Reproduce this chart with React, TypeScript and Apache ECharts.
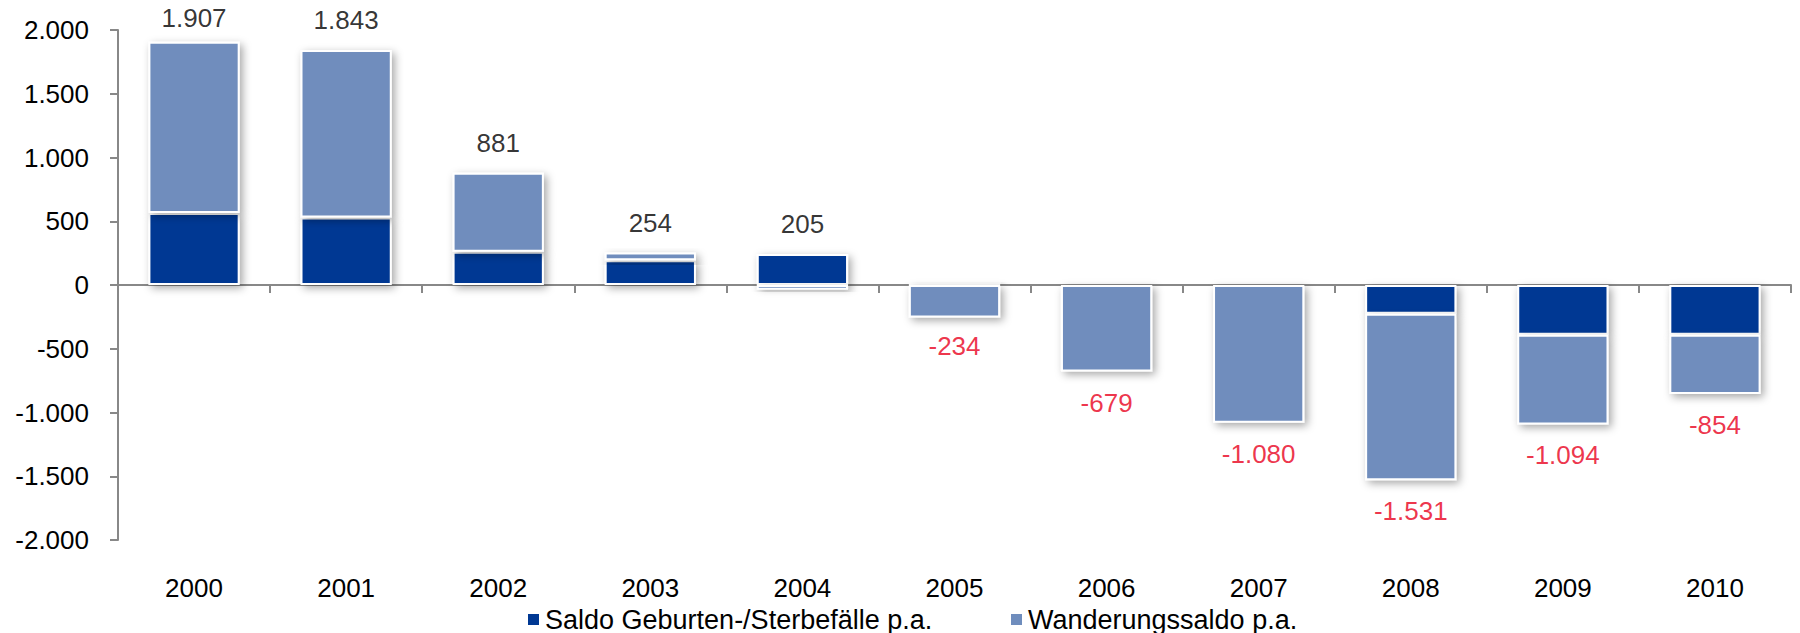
import React, { useEffect, useRef } from "react";
import * as echarts from "echarts";

const years = ["2000", "2001", "2002", "2003", "2004", "2005", "2006", "2007", "2008", "2009", "2010"];
const saldoGeburten = [565, 530, 260, 195, 243, 20, 0, 0, -225, -390, -390];
const wanderungssaldo = [1342, 1313, 621, 59, -38, -254, -679, -1080, -1306, -704, -464];
const totals = [1907, 1843, 881, 254, 205, -234, -679, -1080, -1531, -1094, -854];
const yTicks = { min: -2000, max: 2000, interval: 500 };
const legendNames = ["Saldo Geburten-/Sterbefälle p.a.", "Wanderungssaldo p.a."];

const FONT = "'Liberation Sans', Arial, sans-serif";
const fmt = (v: number) => {
  const s = Math.abs(Math.round(v)).toString().replace(/\B(?=(\d{3})+(?!\d))/g, ".");
  return (v < 0 ? "-" : "") + s;
};

const GRID_TOP = 30;
const GRID_BOTTOM = 93;
const HEIGHT = 633;

export default function App() {
  const ref = useRef<HTMLDivElement>(null);
  useEffect(() => {
    if (!ref.current) return;
    const chart = echarts.init(ref.current, undefined, { renderer: "svg" });
    const barStyle = (color: string) => ({
      color,
      borderColor: "#ffffff",
      borderWidth: 2,
      shadowBlur: 8,
      shadowOffsetX: 3,
      shadowOffsetY: 3,
      shadowColor: "rgba(0,0,0,0.35)",
    });
    const plotH = HEIGHT - GRID_TOP - GRID_BOTTOM;
    const yPix = (v: number) => GRID_TOP + ((yTicks.max - v) / (yTicks.max - yTicks.min)) * plotH;
    const legendCommon = {
      icon: "rect",
      itemWidth: 13,
      itemHeight: 13,
      itemGap: 8,
      textStyle: { fontSize: 27, color: "#000", fontFamily: FONT },
    };
    chart.setOption({
      animation: false,
      textStyle: { fontFamily: FONT },
      grid: { left: 118, right: 9, top: GRID_TOP, bottom: GRID_BOTTOM, containLabel: false },
      legend: [
        { ...legendCommon, left: 521, top: 601, data: [legendNames[0]] },
        { ...legendCommon, left: 1004, top: 601, data: [legendNames[1]] },
      ],
      xAxis: [
        {
          type: "category",
          data: years,
          axisLine: { onZero: true, lineStyle: { color: "#888888", width: 2 } },
          axisTick: { show: true, length: 8, lineStyle: { color: "#888888", width: 2 } },
          axisLabel: { show: false },
        },
        {
          type: "category",
          data: years,
          position: "bottom",
          axisLine: { show: false, onZero: false },
          axisTick: { show: false },
          axisLabel: { show: true, margin: 35, fontSize: 26, color: "#000", fontFamily: FONT },
        },
      ],
      yAxis: {
        type: "value",
        min: yTicks.min,
        max: yTicks.max,
        interval: yTicks.interval,
        splitLine: { show: false },
        axisLine: { show: true, lineStyle: { color: "#888888", width: 2 } },
        axisTick: { show: true, length: 8, lineStyle: { color: "#888888", width: 2 } },
        axisLabel: { fontSize: 26, color: "#000", margin: 29, fontFamily: FONT, formatter: (v: number) => fmt(v) },
      },
      series: [
        {
          name: legendNames[0],
          type: "bar",
          stack: "total",
          barWidth: "60%",
          data: saldoGeburten,
          itemStyle: barStyle("#003893"),
        },
        {
          name: legendNames[1],
          type: "bar",
          stack: "total",
          barWidth: "60%",
          data: wanderungssaldo,
          itemStyle: barStyle("#6f8dbd"),
        },
        {
          name: "Summe",
          type: "scatter",
          symbolSize: 0,
          silent: true,
          z: 10,
          data: totals.map((v, i) => {
            const top = Math.max(v, saldoGeburten[i], 0);
            return {
              value: v >= 0 ? top : v,
              label: {
                show: true,
                position: v >= 0 ? "top" : "bottom",
                distance: v >= 0 ? Math.max(2, Math.min(17, yPix(top) - 18 - 13)) : 18,
                color: v >= 0 ? "#000000" : "#e8001c",
                fontSize: 26,
                fontFamily: FONT,
                formatter: () => fmt(v),
              },
            };
          }),
        },
      ],
    });
    return () => chart.dispose();
  }, []);
  return <div ref={ref} style={{ width: 1800, height: 633, position: "absolute", left: 0, top: 0 }} />;
}
